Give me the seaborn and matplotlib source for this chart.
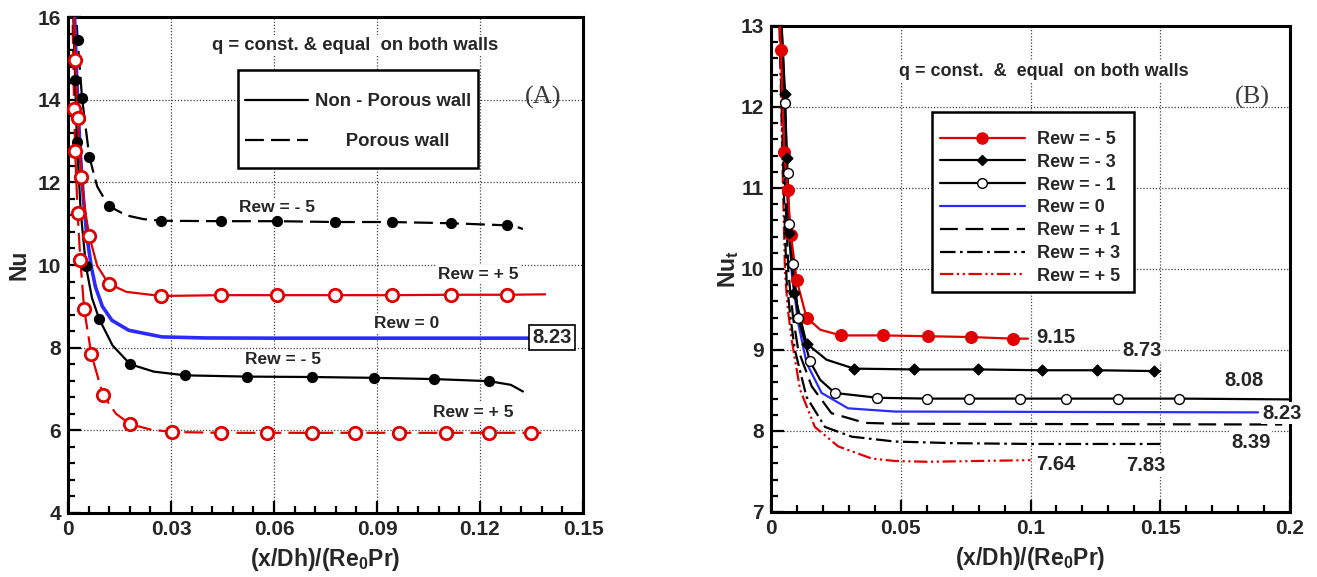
import matplotlib
matplotlib.use("Agg")
import matplotlib.pyplot as plt
import seaborn as sns
import numpy as np
import pandas as pd
from matplotlib.lines import Line2D
from matplotlib.patches import Rectangle
from matplotlib.ticker import MultipleLocator, FixedLocator

# ---------------- data: panel A ----------------
a_np_m5_x = [0.0012, 0.0021, 0.0026, 0.0037, 0.0052, 0.0070, 0.0091, 0.0130, 0.0181, 0.0250, 0.0342, 0.0522, 0.0712, 0.0892, 0.1067, 0.1227, 0.1290, 0.1325]
a_np_m5_y = [17.0, 14.47, 12.98, 11.30, 9.98, 9.20, 8.69, 8.05, 7.60, 7.42, 7.33, 7.30, 7.29, 7.27, 7.24, 7.19, 7.10, 6.94]
a_np_m5_mx = [0.0021, 0.0026, 0.0052, 0.0091, 0.0181, 0.0342, 0.0522, 0.0712, 0.0892, 0.1067, 0.1227]
a_np_m5_my = [14.47, 12.98, 9.98, 8.69, 7.60, 7.33, 7.30, 7.29, 7.27, 7.24, 7.19]

a_p_m5_x = [0.0018, 0.0028, 0.0041, 0.0062, 0.0085, 0.0118, 0.0170, 0.0220, 0.0271, 0.0445, 0.0610, 0.0778, 0.0943, 0.1116, 0.1278, 0.1305, 0.1325]
a_p_m5_y = [17.0, 15.44, 14.03, 12.62, 11.90, 11.43, 11.20, 11.11, 11.07, 11.06, 11.06, 11.04, 11.04, 11.01, 10.96, 10.93, 10.87]
a_p_m5_mx = [0.0028, 0.0041, 0.0062, 0.0118, 0.0271, 0.0445, 0.0610, 0.0778, 0.0943, 0.1116, 0.1278]
a_p_m5_my = [15.44, 14.03, 12.62, 11.43, 11.07, 11.06, 11.06, 11.04, 11.04, 11.01, 10.96]

a_np_p5_x = [0.0014, 0.0021, 0.0028, 0.0039, 0.0050, 0.0062, 0.0085, 0.0118, 0.0170, 0.0271, 0.0445, 0.0610, 0.0778, 0.0943, 0.1116, 0.1278, 0.1390]
a_np_p5_y = [17.0, 14.96, 13.55, 12.13, 11.30, 10.70, 9.98, 9.55, 9.35, 9.25, 9.27, 9.27, 9.27, 9.27, 9.28, 9.28, 9.29]
a_np_p5_mx = [0.0021, 0.0028, 0.0039, 0.0062, 0.0118, 0.0271, 0.0445, 0.0610, 0.0778, 0.0943, 0.1116, 0.1278]
a_np_p5_my = [14.96, 13.55, 12.13, 10.70, 9.55, 9.25, 9.27, 9.27, 9.27, 9.27, 9.28, 9.28]

a_p_p5_x = [0.0011, 0.0018, 0.0021, 0.0028, 0.0036, 0.0047, 0.0068, 0.0102, 0.0140, 0.0181, 0.0240, 0.0303, 0.0445, 0.0579, 0.0712, 0.0836, 0.0965, 0.1100, 0.1227, 0.1348, 0.1390]
a_p_p5_y = [17.0, 13.77, 12.76, 11.25, 10.12, 8.93, 7.84, 6.85, 6.40, 6.15, 6.02, 5.96, 5.94, 5.94, 5.94, 5.94, 5.94, 5.94, 5.94, 5.94, 5.94]
a_p_p5_mx = [0.0018, 0.0021, 0.0028, 0.0036, 0.0047, 0.0068, 0.0102, 0.0181, 0.0303, 0.0445, 0.0579, 0.0712, 0.0836, 0.0965, 0.1100, 0.1227, 0.1348]
a_p_p5_my = [13.77, 12.76, 11.25, 10.12, 8.93, 7.84, 6.85, 6.15, 5.96, 5.94, 5.94, 5.94, 5.94, 5.94, 5.94, 5.94, 5.94]

a_0_x = [0.0015, 0.0025, 0.0035, 0.0045, 0.0055, 0.0068, 0.0080, 0.0100, 0.0128, 0.0177, 0.0274, 0.0400, 0.0600, 0.1390]
a_0_y = [17.0, 14.6, 12.8, 11.6, 10.7, 9.95, 9.47, 9.00, 8.66, 8.42, 8.26, 8.235, 8.23, 8.23]

a_xticks = [0, 0.03, 0.06, 0.09, 0.12, 0.15]
a_xticklabels = ["0", "0.03", "0.06", "0.09", "0.12", "0.15"]
a_yticks = [4, 6, 8, 10, 12, 14, 16]
a_legend_labels = ["Non - Porous wall", "      Porous wall"]

# ---------------- data: panel B ----------------
b_m5_x = [0.0030, 0.0038, 0.0051, 0.0064, 0.0077, 0.0099, 0.0137, 0.0190, 0.0269, 0.0432, 0.0606, 0.0769, 0.0933, 0.0990]
b_m5_y = [13.4, 12.70, 11.45, 10.98, 10.42, 9.86, 9.40, 9.25, 9.18, 9.18, 9.17, 9.16, 9.14, 9.14]
b_m5_mx = [0.0038, 0.0051, 0.0064, 0.0077, 0.0099, 0.0137, 0.0269, 0.0432, 0.0606, 0.0769, 0.0933]
b_m5_my = [12.70, 11.45, 10.98, 10.42, 9.86, 9.40, 9.18, 9.18, 9.17, 9.16, 9.14]

b_m3_x = [0.0035, 0.0054, 0.0060, 0.0069, 0.0090, 0.0137, 0.0214, 0.0320, 0.0551, 0.0798, 0.1044, 0.1257, 0.1474, 0.1500]
b_m3_y = [13.4, 12.16, 11.37, 10.44, 9.70, 9.08, 8.88, 8.77, 8.76, 8.76, 8.75, 8.75, 8.74, 8.74]
b_m3_mx = [0.0054, 0.0060, 0.0069, 0.0090, 0.0137, 0.0320, 0.0551, 0.0798, 0.1044, 0.1257, 0.1474]
b_m3_my = [12.16, 11.37, 10.44, 9.70, 9.08, 8.77, 8.76, 8.76, 8.75, 8.75, 8.74]

b_m1_x = [0.0035, 0.0054, 0.0064, 0.0070, 0.0086, 0.0105, 0.0150, 0.0190, 0.0246, 0.0410, 0.0602, 0.0762, 0.0960, 0.1135, 0.1336, 0.1573, 0.2000]
b_m1_y = [13.4, 12.05, 11.18, 10.56, 10.06, 9.40, 8.86, 8.63, 8.47, 8.41, 8.40, 8.40, 8.40, 8.40, 8.40, 8.40, 8.39]
b_m1_mx = [0.0054, 0.0064, 0.0070, 0.0086, 0.0105, 0.0150, 0.0246, 0.0410, 0.0602, 0.0762, 0.0960, 0.1135, 0.1336, 0.1573]
b_m1_my = [12.05, 11.18, 10.56, 10.06, 9.40, 8.86, 8.47, 8.41, 8.40, 8.40, 8.40, 8.40, 8.40, 8.40]

b_0_x = [0.0033, 0.0050, 0.0065, 0.0080, 0.0105, 0.0137, 0.0195, 0.0297, 0.0477, 0.1877]
b_0_y = [13.4, 11.8, 10.8, 9.95, 9.33, 8.84, 8.47, 8.28, 8.24, 8.23]

b_p1_x = [0.0032, 0.0045, 0.0055, 0.0067, 0.0085, 0.0105, 0.0157, 0.0233, 0.0362, 0.0477, 0.1970]
b_p1_y = [13.4, 12.0, 11.0, 9.95, 9.40, 9.00, 8.55, 8.22, 8.10, 8.09, 8.08]

b_p3_x = [0.0031, 0.0042, 0.0050, 0.0060, 0.0075, 0.0092, 0.0137, 0.0208, 0.0311, 0.0477, 0.0700, 0.1000, 0.1500]
b_p3_y = [13.4, 11.9, 10.9, 9.86, 9.40, 9.00, 8.42, 8.05, 7.93, 7.87, 7.85, 7.84, 7.84]

b_p5_x = [0.0030, 0.0040, 0.0047, 0.0054, 0.0065, 0.0080, 0.0112, 0.0169, 0.0259, 0.0388, 0.0477, 0.0600, 0.0800, 0.1000]
b_p5_y = [13.4, 11.9, 10.9, 9.95, 9.50, 9.12, 8.51, 8.05, 7.81, 7.66, 7.63, 7.62, 7.63, 7.64]

b_xticks = [0, 0.05, 0.1, 0.15, 0.2]
b_xticklabels = ["0", "0.05", "0.1", "0.15", "0.2"]
b_yticks = [7, 8, 9, 10, 11, 12, 13]

b_legend_labels = ["Rew = - 5", "Rew = - 3", "Rew = - 1", "Rew = 0", "Rew = + 1", "Rew = + 3", "Rew = + 5"]

# ---------------- style ----------------
sns.set_style("ticks")
plt.rcParams["font.family"] = ["Liberation Sans", "DejaVu Sans"]
plt.rcParams["font.weight"] = "bold"
plt.rcParams["mathtext.fontset"] = "custom"
plt.rcParams["mathtext.rm"] = "Liberation Sans:bold"
plt.rcParams["mathtext.bf"] = "Liberation Sans:bold"
plt.rcParams["mathtext.it"] = "Liberation Sans:bold"

RED = "#e00000"
BLUE = "#2b2bff"
BLK = "black"

fig = plt.figure(figsize=(13.17, 5.77), dpi=100)
ax1 = fig.add_axes([68 / 1317, 1 - 513 / 577, (583 - 68) / 1317, (513 - 17) / 577])
ax2 = fig.add_axes([771 / 1317, 1 - 512 / 577, (1290 - 771) / 1317, (512 - 26) / 577])


def line(ax, x, y, color, ls="-", lw=1.6, z=3):
    sns.lineplot(x=x, y=y, ax=ax, color=color, linestyle=ls, linewidth=lw,
                 sort=False, estimator=None, zorder=z, legend=False)


def marks(ax, x, y, marker, face, edge, size, ew=1.5, z=5):
    sns.scatterplot(x=x, y=y, ax=ax, marker=marker, color=face, edgecolor=edge,
                    s=size, linewidth=ew, zorder=z, legend=False, clip_on=False)


def style_axes(ax, xlim, ylim, xticks, xlabels, yticks, xminor, yminor):
    ax.set_xlim(*xlim)
    ax.set_ylim(*ylim)
    ax.xaxis.set_major_locator(FixedLocator(xticks))
    ax.set_xticklabels(xlabels)
    ax.yaxis.set_major_locator(FixedLocator(yticks))
    ax.xaxis.set_minor_locator(MultipleLocator(xminor))
    ax.yaxis.set_minor_locator(MultipleLocator(yminor))
    ax.tick_params(which="both", direction="in", top=False, right=False,
                   width=1.6, color="black")
    ax.tick_params(which="major", length=9, labelsize=15, pad=5)
    ax.tick_params(which="minor", length=5)
    for lab in ax.get_xticklabels() + ax.get_yticklabels():
        lab.set_fontweight("bold")
    for s in ax.spines.values():
        s.set_linewidth(2.2)
        s.set_color("black")
        s.set_visible(True)
    ax.grid(True, which="major", linestyle=(0, (1, 1.5)), color="#444444", linewidth=0.9)
    ax.set_axisbelow(True)


def frame_box(ax, x0, y0, x1, y1):
    ax.add_patch(Rectangle((x0, y0), x1 - x0, y1 - y0, transform=ax.transAxes,
                           facecolor="white", edgecolor="black", linewidth=1.8,
                           zorder=7, clip_on=False))


# ---------------- panel A ----------------
DASH = (0, (8.5, 3.2))
line(ax1, a_p_m5_x, a_p_m5_y, BLK, DASH)
line(ax1, a_p_p5_x, a_p_p5_y, RED, DASH)
line(ax1, a_0_x, a_0_y, BLUE, "-", lw=2.6)
line(ax1, a_np_m5_x, a_np_m5_y, BLK, "-")
line(ax1, a_np_p5_x, a_np_p5_y, RED, "-")
marks(ax1, a_p_m5_mx, a_p_m5_my, "o", BLK, BLK, 50, 1)
marks(ax1, a_np_m5_mx, a_np_m5_my, "o", BLK, BLK, 50, 1)
marks(ax1, a_p_p5_mx, a_p_p5_my, "o", "white", RED, 80, 2)
marks(ax1, a_np_p5_mx, a_np_p5_my, "o", "white", RED, 80, 2)

style_axes(ax1, (0, 0.15), (4, 16), a_xticks, a_xticklabels, a_yticks, 0.006, 0.4)
ax1.set_xlabel("(x/Dh)/(Re$_{0}$Pr)", fontsize=16.5, fontweight="bold", labelpad=5)
ax1.set_ylabel("Nu", fontsize=16.5, fontweight="bold", labelpad=5)

bb = dict(facecolor="white", edgecolor="none", pad=1.5)
ax1.text(0.0836, 15.32, "q = const. & equal  on both walls", ha="center", va="center",
         fontsize=13.3, fontweight="bold", bbox=bb)
ax1.text(0.1383, 14.06, "(A)", ha="center", va="center", fontsize=19,
         family="Liberation Serif", fontweight="normal", color="#3a3a3a")
ax1.text(0.0609, 11.40, "Rew = - 5", ha="center", va="center", fontsize=12.5, fontweight="bold", bbox=bb)
ax1.text(0.1194, 9.78, "Rew = + 5", ha="center", va="center", fontsize=12.5, fontweight="bold", bbox=bb)
ax1.text(0.0987, 8.59, "Rew = 0", ha="center", va="center", fontsize=12.5, fontweight="bold", bbox=bb)
ax1.text(0.0626, 7.72, "Rew = - 5", ha="center", va="center", fontsize=12.5, fontweight="bold", bbox=bb)
ax1.text(0.1180, 6.44, "Rew = + 5", ha="center", va="center", fontsize=12.5, fontweight="bold", bbox=bb)
ax1.text(0.1410, 8.25, "8.23", ha="center", va="center", fontsize=14.5, fontweight="bold",
         bbox=dict(facecolor="white", edgecolor="black", linewidth=1.2, pad=2.2), zorder=6)

frame_box(ax1, 0.330, 0.696, 0.796, 0.893)
hA = [Line2D([], [], color=BLK, lw=1.6, ls="-"), Line2D([], [], color=BLK, lw=1.6, ls=DASH)]
legA = ax1.legend(hA, a_legend_labels, loc="upper left",
                  bbox_to_anchor=(0.3437, 0.846), borderaxespad=0, borderpad=0,
                  prop=dict(weight="bold", size=13.3), handlelength=3.4, handletextpad=0.4,
                  labelspacing=1.25, frameon=False)
legA.set_zorder(8)

# ---------------- panel B ----------------
line(ax2, b_p5_x, b_p5_y, RED, (0, (6, 1.6, 1, 1.6, 1, 1.6)))
line(ax2, b_p3_x, b_p3_y, BLK, (0, (7, 2, 1.2, 2)))
line(ax2, b_p1_x, b_p1_y, BLK, (0, (8, 3.5)))
line(ax2, b_0_x, b_0_y, BLUE, "-")
line(ax2, b_m1_x, b_m1_y, BLK, "-")
line(ax2, b_m3_x, b_m3_y, BLK, "-")
line(ax2, b_m5_x, b_m5_y, RED, "-")
marks(ax2, b_m5_mx, b_m5_my, "o", RED, RED, 70, 1)
marks(ax2, b_m3_mx, b_m3_my, "D", BLK, BLK, 30, 1)
marks(ax2, b_m1_mx, b_m1_my, "o", "white", BLK, 50, 1)

style_axes(ax2, (0, 0.2), (7, 13), b_xticks, b_xticklabels, b_yticks, 0.01, 0.2)
ax2.set_xlabel("(x/Dh)/(Re$_{0}$Pr)", fontsize=16.5, fontweight="bold", labelpad=5)
ax2.set_ylabel("Nu$_{t}$", fontsize=16.5, fontweight="bold", labelpad=0)

ax2.text(0.105, 12.44, "q = const.  &  equal  on both walls", ha="center", va="center",
         fontsize=13, fontweight="bold", bbox=bb)
ax2.text(0.1854, 12.12, "(B)", ha="center", va="center", fontsize=19,
         family="Liberation Serif", fontweight="normal", color="#3a3a3a")
for tx, ty, s in [(0.1022, 9.15, "9.15"), (0.1430, 8.99, "8.73"), (0.1823, 8.62, "8.08"),
                  (0.1969, 8.22, "8.23"), (0.1850, 7.86, "8.39"), (0.1445, 7.57, "7.83"),
                  (0.1099, 7.59, "7.64")]:
    ha = "left" if s == "9.15" else "center"
    ax2.text(tx, ty, s, ha=ha, va="center", fontsize=14.5, fontweight="bold",
             bbox=dict(facecolor="white", edgecolor="none", pad=1), zorder=6, clip_on=False)

frame_box(ax2, 0.3096, 0.452, 0.6987, 0.8237)
hB = [Line2D([], [], color=RED, lw=1.6, marker="o", ms=8, mfc=RED, mec=RED),
      Line2D([], [], color=BLK, lw=1.6, marker="D", ms=5.5, mfc=BLK, mec=BLK),
      Line2D([], [], color=BLK, lw=1.6, marker="o", ms=7, mfc="white", mec=BLK),
      Line2D([], [], color=BLUE, lw=1.6),
      Line2D([], [], color=BLK, lw=1.6, ls=(0, (8, 3.5))),
      Line2D([], [], color=BLK, lw=1.6, ls=(0, (7, 2, 1.2, 2))),
      Line2D([], [], color=RED, lw=1.6, ls=(0, (6, 1.6, 1, 1.6, 1, 1.6)))]
legB = ax2.legend(hB, b_legend_labels, loc="upper left", bbox_to_anchor=(0.3256, 0.784),
                  borderaxespad=0, borderpad=0, prop=dict(weight="bold", size=13),
                  handlelength=4.7, handletextpad=0.7, labelspacing=0.32, frameon=False)
legB.set_zorder(8)

fig.savefig("out.png", dpi=100)
